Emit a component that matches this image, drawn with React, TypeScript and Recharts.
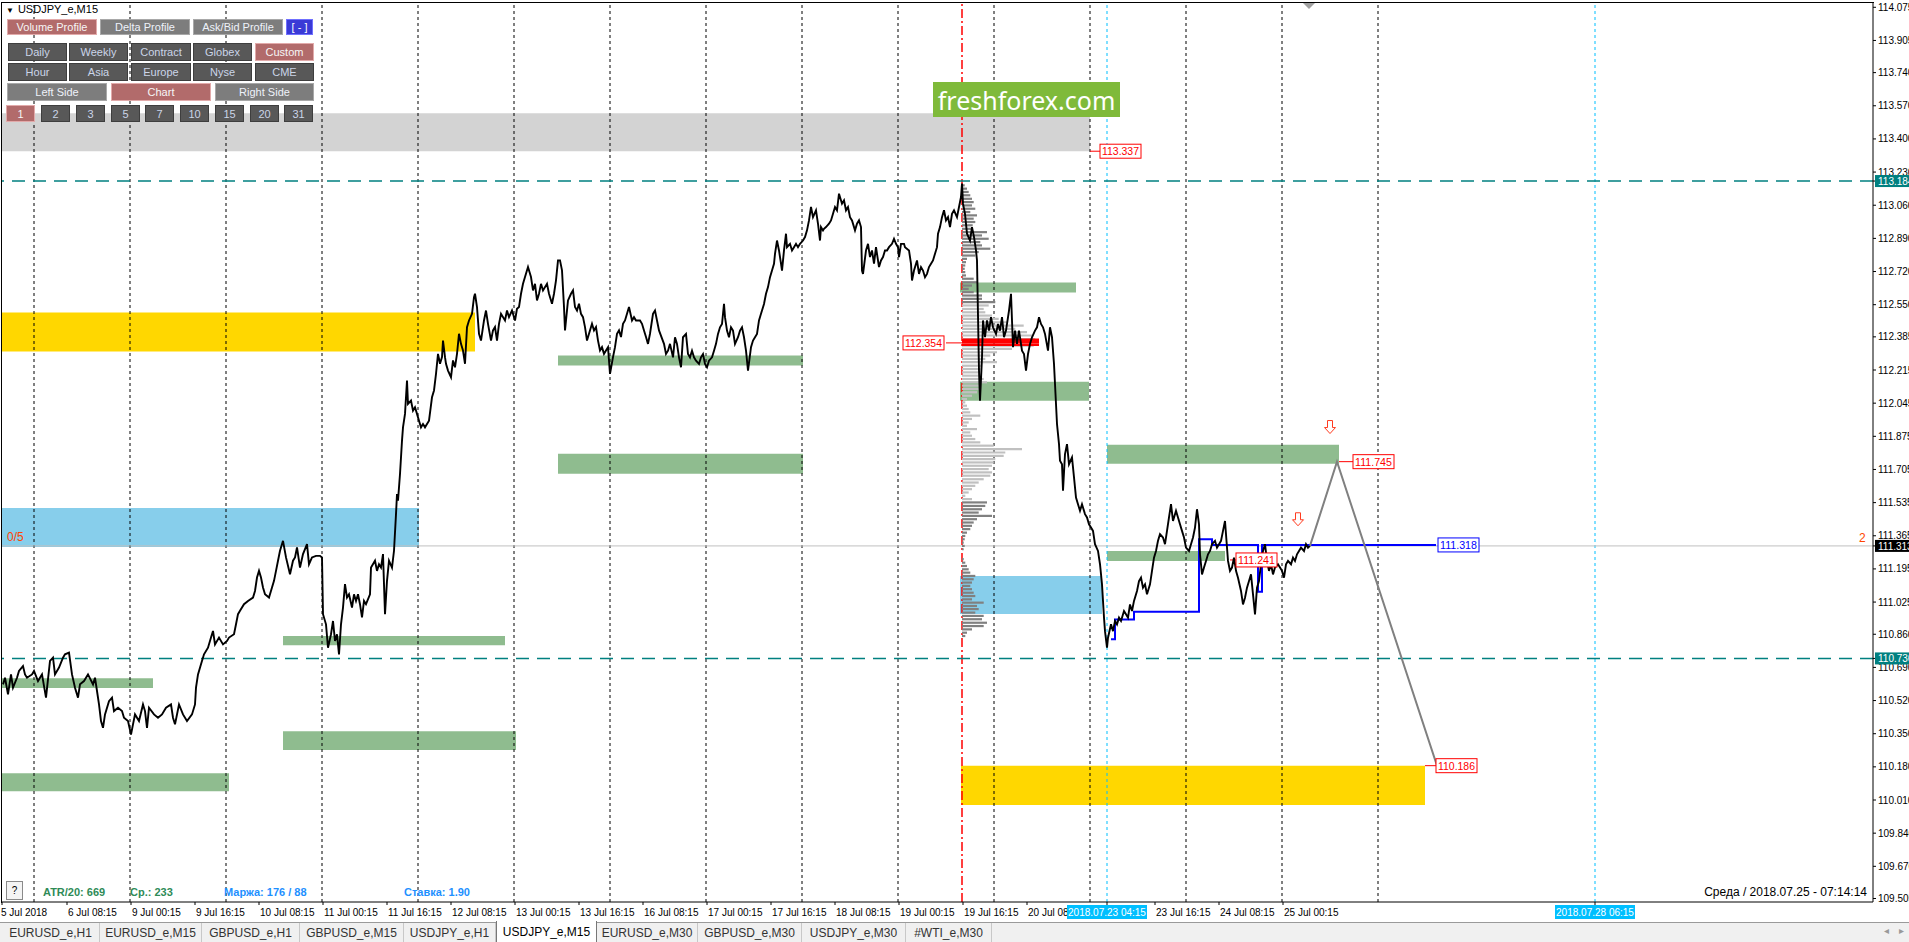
import React from 'react';
import { ComposedChart, Line, XAxis, YAxis, ReferenceArea, ReferenceLine, ReferenceDot } from 'recharts';

// ---------- DATA ----------
// bar index: 15-minute bars counted from 5 Jul 2018 00:00 (96 bars per trading day)
const pricePath: [number, number][] = [
  [65,110.603],[67,110.637],[70,110.552],[73,110.654],[75,110.586],[79,110.637],[81,110.672],[85,110.697],[87,110.654],[89,110.637],
  [94,110.654],[96,110.672],[100,110.620],[104,110.654],[108,110.535],[112,110.723],[115,110.740],[117,110.654],[121,110.689],[125,110.740],
  [127,110.757],[131,110.766],[134,110.654],[137,110.586],[140,110.535],[142,110.603],[146,110.620],[150,110.654],[155,110.603],[157,110.637],
  [159,110.569],[161,110.500],[163,110.415],[165,110.380],[167,110.449],[171,110.517],[174,110.535],[176,110.466],[180,110.483],[184,110.466],
  [186,110.432],[190,110.415],[193,110.346],[195,110.398],[197,110.449],[201,110.415],[205,110.500],[207,110.466],[209,110.380],[211,110.483],
  [216,110.449],[220,110.432],[224,110.449],[228,110.483],[233,110.500],[235,110.432],[237,110.398],[241,110.500],[245,110.449],[249,110.415],
  [254,110.449],[257,110.500],[258,110.586],[260,110.654],[263,110.706],[266,110.757],[270,110.791],[273,110.843],[275,110.877],[277,110.808],
  [281,110.843],[285,110.808],[289,110.826],[291,110.843],[296,110.860],[298,110.911],[300,110.963],[302,110.980],[306,111.014],[310,111.031],
  [315,111.048],[317,111.082],[319,111.151],[321,111.185],[323,111.151],[325,111.100],[327,111.065],[331,111.048],[334,111.100],[336,111.134],
  [338,111.185],[340,111.237],[342,111.288],[345,111.339],[348,111.254],[352,111.168],[355,111.237],[357,111.254],[359,111.305],[362,111.202],
  [365,111.271],[369,111.322],[371,111.219],[374,111.254],[378,111.262],[382,111.262],[384,111.254],[385,110.963],[388,110.911],[390,110.791],
  [393,110.860],[395,110.928],[397,110.826],[399,110.860],[401,110.757],[403,110.911],[405,110.997],[407,111.117],[409,111.048],[411,111.065],
  [414,110.997],[416,111.065],[418,111.031],[420,111.065],[422,111.014],[424,110.946],[426,111.031],[428,111.014],[432,111.065],[433,111.202],
  [437,111.237],[439,111.185],[441,111.219],[443,111.202],[445,111.271],[447,110.963],[449,111.134],[451,111.237],[454,111.202],[456,111.288],
  [458,111.476],[459,111.579],[460,111.545],[462,111.682],[464,111.853],[465,111.921],[467,111.990],[469,112.161],[470,112.041],[473,112.058],
  [475,112.007],[477,112.024],[479,111.990],[481,111.955],[483,111.921],[485,111.938],[487,111.921],[491,111.955],[494,112.075],[496,112.110],
  [498,112.195],[500,112.298],[502,112.247],[504,112.281],[505,112.366],[507,112.281],[508,112.247],[510,112.212],[513,112.178],[515,112.264],
  [517,112.229],[519,112.298],[521,112.401],[523,112.349],[525,112.315],[527,112.247],[529,112.435],[531,112.469],[534,112.503],[536,112.589],
  [537,112.606],[539,112.538],[541,112.401],[543,112.366],[546,112.469],[548,112.520],[550,112.452],[553,112.366],[555,112.418],[557,112.435],
  [559,112.366],[561,112.452],[563,112.503],[567,112.469],[569,112.520],[571,112.486],[574,112.520],[577,112.469],[579,112.529],[581,112.538],
  [583,112.606],[585,112.657],[587,112.692],[590,112.743],[593,112.692],[595,112.623],[597,112.657],[599,112.572],[601,112.606],[603,112.657],
  [605,112.623],[609,112.657],[611,112.606],[614,112.555],[616,112.606],[618,112.675],[620,112.777],[622,112.777],[624,112.726],[626,112.538],
  [627,112.418],[630,112.572],[633,112.606],[635,112.623],[637,112.538],[639,112.520],[641,112.555],[643,112.503],[645,112.486],[647,112.435],
  [649,112.366],[651,112.401],[654,112.452],[656,112.418],[658,112.435],[660,112.366],[662,112.315],[664,112.332],[666,112.298],[668,112.315],
  [670,112.332],[672,112.195],[675,112.281],[677,112.332],[679,112.401],[681,112.418],[683,112.384],[685,112.452],[687,112.469],[689,112.503],
  [691,112.538],[694,112.469],[696,112.486],[698,112.469],[702,112.469],[704,112.452],[706,112.418],[708,112.384],[710,112.349],[712,112.401],
  [715,112.503],[717,112.520],[719,112.469],[721,112.418],[726,112.349],[728,112.297],[730,112.314],[732,112.349],[735,112.280],[737,112.383],
  [739,112.349],[741,112.280],[743,112.229],[745,112.383],[748,112.400],[750,112.297],[752,112.280],[754,112.314],[756,112.280],[758,112.263],
  [761,112.246],[763,112.280],[765,112.297],[767,112.246],[769,112.229],[771,112.263],[774,112.280],[776,112.314],[778,112.349],[780,112.400],
  [782,112.434],[784,112.451],[786,112.554],[787,112.486],[789,112.417],[791,112.383],[793,112.434],[795,112.417],[797,112.349],[800,112.383],
  [802,112.417],[804,112.434],[806,112.383],[808,112.314],[810,112.212],[813,112.332],[815,112.366],[817,112.383],[819,112.400],[821,112.469],
  [823,112.503],[826,112.554],[828,112.606],[830,112.640],[832,112.691],[834,112.725],[836,112.760],[837,112.811],[839,112.879],[841,112.828],
  [843,112.760],[844,112.725],[846,112.828],[848,112.914],[849,112.845],[852,112.862],[854,112.828],[856,112.845],[858,112.862],[860,112.845],
  [862,112.862],[865,112.879],[867,112.897],[869,112.931],[871,112.982],[873,113.051],[875,112.999],[878,113.034],[880,112.965],[882,112.879],
  [883,112.948],[885,112.931],[886,112.939],[888,112.948],[891,112.965],[893,112.982],[895,113.016],[897,113.051],[899,113.034],[901,113.119],
  [904,113.068],[906,113.085],[908,113.034],[910,113.051],[912,112.999],[914,112.982],[917,112.931],[919,112.965],[921,112.982],[923,112.948],
  [924,112.725],[925,112.708],[928,112.828],[930,112.862],[932,112.794],[934,112.828],[936,112.760],[938,112.845],[941,112.743],[943,112.777],
  [945,112.794],[947,112.828],[949,112.828],[951,112.845],[954,112.862],[956,112.888],[958,112.862],[960,112.845],[961,112.794],[963,112.862],
  [966,112.862],[967,112.845],[971,112.828],[973,112.760],[974,112.674],[976,112.725],[979,112.777],[981,112.708],[983,112.743],[985,112.725],
  [987,112.691],[989,112.708],[991,112.743],[993,112.760],[995,112.777],[997,112.811],[999,112.845],[1000,112.914],[1002,112.948],[1004,112.999],
  [1006,113.034],[1008,112.982],[1010,112.999],[1012,112.948],[1014,113.016],[1016,113.034],[1019,112.999],[1021,113.051],[1023,113.102],[1024,113.171],
  [1025,113.068],[1027,113.016],[1029,112.914],[1032,112.879],[1034,112.948],[1036,112.897],[1038,112.828],[1039,112.777],[1041,112.212],[1042,112.058],
  [1044,112.280],[1045,112.469],[1047,112.383],[1049,112.469],[1051,112.417],[1053,112.486],[1055,112.434],[1058,112.400],[1060,112.451],[1062,112.417],
  [1064,112.486],[1066,112.383],[1068,112.417],[1071,112.520],[1073,112.606],[1075,112.332],[1077,112.417],[1079,112.349],[1081,112.417],[1084,112.314],
  [1086,112.297],[1088,112.212],[1090,112.297],[1092,112.349],[1094,112.383],[1097,112.417],[1099,112.434],[1101,112.486],[1103,112.451],[1105,112.434],
  [1107,112.400],[1110,112.314],[1112,112.434],[1114,112.383],[1116,112.246],[1117,112.143],[1119,111.938],[1121,111.835],[1122,111.750],[1124,111.732],
  [1125,111.596],[1127,111.784],[1129,111.835],[1131,111.732],[1134,111.767],[1136,111.664],[1138,111.561],[1140,111.527],[1142,111.493],[1144,111.527],
  [1147,111.476],[1149,111.459],[1151,111.424],[1153,111.407],[1155,111.390],[1157,111.322],[1160,111.287],[1162,111.219],[1164,111.116],[1166,110.945],
  [1167,110.876],[1169,110.791],[1170,110.842],[1173,110.911],[1175,110.876],[1177,110.928],[1179,110.911],[1181,110.945],[1183,110.928],[1186,110.979],
  [1188,110.962],[1190,110.945],[1192,111.013],[1194,110.979],[1196,111.031],[1199,111.082],[1201,111.133],[1203,111.150],[1205,111.099],[1207,111.116],
  [1209,111.065],[1212,111.116],[1214,111.185],[1216,111.253],[1218,111.287],[1220,111.339],[1222,111.373],[1225,111.356],[1227,111.322],[1229,111.390],
  [1231,111.459],[1233,111.527],[1235,111.441],[1238,111.493],[1240,111.459],[1242,111.424],[1244,111.390],[1246,111.356],[1248,111.304],[1251,111.287],
  [1253,111.322],[1255,111.356],[1257,111.407],[1259,111.501],[1261,111.424],[1262,111.270],[1264,111.167],[1266,111.202],[1268,111.236],[1270,111.270],
  [1272,111.287],[1274,111.322],[1277,111.339],[1279,111.304],[1281,111.322],[1283,111.339],[1285,111.390],[1287,111.441],[1290,111.236],[1292,111.185],
  [1294,111.202],[1296,111.253],[1298,111.185],[1300,111.150],[1303,111.082],[1305,111.013],[1307,111.047],[1309,111.099],[1311,111.133],[1313,111.167],
  [1316,111.013],[1317,110.962],[1319,111.099],[1321,111.133],[1323,111.219],[1325,111.287],[1327,111.322],[1329,111.236],[1331,111.185],[1333,111.219],
  [1335,111.167],[1337,111.202],[1340,111.219],[1342,111.202],[1344,111.185],[1346,111.150],[1348,111.219],[1350,111.236],[1353,111.219],[1355,111.253],
  [1357,111.236],[1359,111.270],[1361,111.287],[1363,111.304],[1366,111.287],[1368,111.322],[1370,111.304],[1372,111.313],
];

// stepped VWAP-style level (blue)
const vwapBars = [1173, 1177, 1196, 1261, 1274, 1320, 1324, 1498];
const vwapValues = [110.834, 110.936, 110.976, 111.347, 111.318, 111.078, 111.318, 111.318];

// projected path (gray)
const forecastBars = [1372, 1399, 1499];
const forecastValues = [111.313, 111.745, 110.186];

// zones: [fromBar, toBar, low, high]
const rangeZones: number[][] = [[64, 1152, 113.337, 113.532]];
const targetZones: number[][] = [[64, 537, 112.310, 112.510], [1023, 1487, 109.985, 110.186]];
const pivotZones: number[][] = [[64, 481, 111.308, 111.508], [1022, 1164, 110.964, 111.159]];
const levelZones: number[][] = [
  [1022, 1138, 112.613, 112.664], [620, 865, 112.238, 112.289], [1022, 1151, 112.058, 112.155],
  [620, 865, 111.683, 111.786], [1169, 1401, 111.734, 111.832], [1169, 1287, 111.236, 111.287],
  [345, 567, 110.804, 110.851], [64, 215, 110.584, 110.635], [345, 578, 110.266, 110.363],
  [64, 291, 110.055, 110.147],
];

// volume profile starting at 19 Jul 16:00
const profileStart = 1024;
const profilePrices = [
  113.162,113.145,113.128,113.111,113.093,113.076,113.059,113.042,113.025,113.008,112.991,112.974,112.957,112.939,112.922,112.905,
  112.888,112.871,112.854,112.837,112.820,112.802,112.785,112.768,112.751,112.734,112.717,112.700,112.683,112.665,112.648,112.631,
  112.614,112.597,112.580,112.563,112.546,112.528,112.511,112.494,112.477,112.460,112.443,112.426,112.409,112.392,112.374,112.340,
  112.323,112.306,112.289,112.272,112.255,112.237,112.220,112.203,112.186,112.169,112.152,112.135,112.118,112.101,112.083,112.066,
  112.049,112.032,112.015,111.998,111.981,111.964,111.946,111.929,111.912,111.895,111.878,111.861,111.844,111.827,111.809,111.792,
  111.775,111.758,111.741,111.724,111.707,111.690,111.673,111.655,111.638,111.621,111.604,111.587,111.570,111.553,111.536,111.518,
  111.501,111.484,111.467,111.450,111.433,111.416,111.399,111.381,111.364,111.347,111.330,111.313,111.296,111.245,111.227,111.210,
  111.193,111.176,111.159,111.142,111.125,111.108,111.091,111.073,111.056,111.039,111.022,111.005,110.989,110.971,110.954,110.937,
  110.919,110.902,110.885,110.868,110.851,
];
const profileVolumes = [
  2.7,5,6.7,8.3,10,11.7,10,13.3,8.3,15,11.7,13.3,10.7,10,25,20,
  26.7,18.3,20,28.3,16.7,13.3,5,4,3.3,2.7,3.3,4,11.7,15,10,6.7,
  11.7,20,20,33.3,26.7,21.7,23.3,30,36.7,45,61.7,53.3,65,70,73.3,71.7,
  50,35,28.3,23.3,35,20,18.3,16.7,18.3,21.7,25,18.3,16.7,15,10,5,
  3.3,5,6.7,8.3,18.3,10,6.7,5,15,8.3,10,13.3,18.3,31.7,60,43.3,
  41.7,33.3,31.7,30,26.7,30,28.3,21.7,16.7,13.3,10,6.7,3.3,10,25,23.3,
  20,16.7,30,15,11.7,10,8.3,5,3.3,2.7,1.7,2.7,1.7,1.7,3.3,5,
  6.7,8.3,13.3,11.7,10,8.3,10,11.7,13.3,10,21.7,15,16.7,13.3,21.7,20,
  25,21.7,10,5,3.3,
];
const valueAreaHigh = 112.55;
const valueAreaLow = 111.55;
const pocPrices = [112.370, 112.357, 112.345];
const pocEnd = 1101;

// level labels
const labelBars = [1162, 965, 1415, 1298, 1500, 1498];
const labelValues = [113.337, 112.354, 111.745, 111.241, 111.318, 110.186];
const labelKinds = ['level', 'level', 'level', 'level', 'vwap', 'level'];
const connectorFrom = [1152, 1008, 1401, 1292, 1487];
const connectorTo = [1162, 1024, 1415, 1298, 1498];
const connectorValues = [113.337, 112.354, 111.745, 111.241, 110.186];

const arrowBars = [1360, 1392];
const arrowValues = [111.447, 111.920];

const keyLevels = [113.184, 110.736];
const currentPrice = 111.313;

const tradingDayStarts = [96, 192, 288, 384, 480, 576, 672, 768, 864, 960, 1056, 1152, 1248, 1344, 1440];
const sessionMarkerBar = 1024;
const timeMarkerBars = [1169, 1657];
const timeMarkerLabels = ['2018.07.23 04:15', '2018.07.28 06:15'];

const xTickBars = [64, 129, 193, 257, 321, 385, 449, 513, 577, 641, 705, 769, 833, 897, 961, 1025, 1089, 1217, 1281, 1345];
const xTickLabels = ['5 Jul 2018', '6 Jul 08:15', '9 Jul 00:15', '9 Jul 16:15', '10 Jul 08:15', '11 Jul 00:15', '11 Jul 16:15',
  '12 Jul 08:15', '13 Jul 00:15', '13 Jul 16:15', '16 Jul 08:15', '17 Jul 00:15', '17 Jul 16:15', '18 Jul 08:15',
  '19 Jul 00:15', '19 Jul 16:15', '20 Jul 08:15', '23 Jul 16:15', '24 Jul 08:15', '25 Jul 00:15'];

const yTicks = [114.075, 113.905, 113.740, 113.570, 113.400, 113.230, 113.060, 112.890, 112.720, 112.550, 112.385, 112.215,
  112.045, 111.875, 111.705, 111.535, 111.365, 111.195, 111.025, 110.860, 110.690, 110.520, 110.350, 110.180, 110.010,
  109.840, 109.670, 109.505];
const yMarkerValues = [113.184, 111.313, 110.736];
const yMarkerKinds = ['key', 'bid', 'key'];

const tabs = ['EURUSD_e,H1', 'EURUSD_e,M15', 'GBPUSD_e,H1', 'GBPUSD_e,M15', 'USDJPY_e,H1', 'USDJPY_e,M15', 'EURUSD_e,M30', 'GBPUSD_e,M30', 'USDJPY_e,M30', '#WTI_e,M30'];

// ---------- STYLE ----------
const FONT = '"Liberation Sans", Arial, sans-serif';
const C = {
  range: '#d3d3d3', target: '#ffd700', pivot: '#87ceeb', level: '#8fbc8f',
  profDark: '#808080', profLight: '#c0c0c0', poc: '#ff0000',
  key: '#008080', bid: '#000000', vwap: '#0000ff', red: '#ff0000', sky: '#00bfff',
};

const priceData = pricePath.map(([t, p]) => ({ t, p }));
const vwapData = vwapBars.map((t, i) => ({ t, p: vwapValues[i] }));
const forecastData = forecastBars.map((t, i) => ({ t, p: forecastValues[i] }));

const XTick = (props: any) => {
  const { x, y, payload } = props;
  const v = payload.value;
  const mi = timeMarkerBars.indexOf(v);
  if (mi >= 0) {
    return (
      <g>
        <rect x={x - 40} y={y - 2} width={80} height={14} fill={C.sky} />
        <text x={x} y={y + 8.5} textAnchor="middle" fill="#fff" fontSize={10} fontFamily={FONT}>{timeMarkerLabels[mi]}</text>
      </g>
    );
  }
  const i = xTickBars.indexOf(v);
  if (i < 0) return null;
  return (
    <text x={i === 0 ? x - 1 : x + 1} y={y + 9} textAnchor="start" fill="#000" fontSize={10} fontFamily={FONT}>{xTickLabels[i]}</text>
  );
};

const YTick = (props: any) => {
  const { x, y, payload } = props;
  const v = payload.value;
  const mi = yMarkerValues.indexOf(v);
  if (mi >= 0) {
    const fill = yMarkerKinds[mi] === 'bid' ? C.bid : C.key;
    return (
      <g>
        <rect x={x - 3} y={y - 6} width={45} height={12} fill={fill} />
        <text x={x} y={y + 4} fill="#fff" fontSize={10} fontFamily={FONT}>{v.toFixed(3)}</text>
      </g>
    );
  }
  return <text x={x} y={y + 3.5} fill="#000" fontSize={10} fontFamily={FONT}>{v.toFixed(3)}</text>;
};

const makeLabel = (text: string, color: string) => (props: any) => {
  const { cx, cy } = props;
  const w = 41;
  return (
    <g>
      <rect x={cx} y={cy - 7} width={w} height={14} fill="#fff" stroke={color} strokeWidth={1} />
      <text x={cx + w / 2} y={cy + 4} textAnchor="middle" fill={color} fontSize={11} fontFamily={FONT}
        textLength={w - 4} lengthAdjust="spacingAndGlyphs">{text}</text>
    </g>
  );
};

const arrowShape = (props: any) => {
  const { cx, cy } = props;
  const d = `M${cx - 2.5},${cy - 7} L${cx + 2.5},${cy - 7} L${cx + 2.5},${cy} L${cx + 5.5},${cy} L${cx},${cy + 6} L${cx - 5.5},${cy} L${cx - 2.5},${cy} Z`;
  return <path d={d} fill="#fff" stroke="#ff3b1f" strokeWidth={1} />;
};

const zoneAreas = (zones: number[][], fill: string, key: string) =>
  zones.map((z, i) => (
    <ReferenceArea key={key + i} x1={z[0]} x2={z[1]} y1={z[2]} y2={z[3]} fill={fill} fillOpacity={1} stroke="none" ifOverflow="visible" />
  ));

const btnStyles: Record<string, any> = {
  on: { background: '#b26b6b', border: '1px solid #e2aaaa', color: '#f6f6f6' },
  mid: { background: '#7d7d7d', border: '1px solid #a8a8a8', color: '#eef2fa' },
  dark: { background: '#585858', border: '1px solid #3e3e3e', color: '#cbd5e8' },
  blue: { background: '#3a3ad6', border: '1px solid #7070ff', color: '#ffffff' },
};

const Btn = ({ label, x, y, w, h, kind }: any) => (
  <div style={{
    position: 'absolute', left: x, top: y, width: w, height: h, boxSizing: 'border-box',
    display: 'flex', alignItems: 'center', justifyContent: 'center', font: `11px ${FONT}`,
    whiteSpace: 'nowrap', ...btnStyles[kind],
  }}>{label}</div>
);

const Panel = () => {
  const rows: any[] = [
    ['Volume Profile', 7, 19, 90, 16, 'on'], ['Delta Profile', 100, 19, 90, 16, 'mid'], ['Ask/Bid Profile', 193, 19, 90, 16, 'mid'], ['[ - ]', 286, 19, 27, 16, 'blue'],
    ['Daily', 8, 43, 59, 18, 'dark'], ['Weekly', 69, 43, 59, 18, 'dark'], ['Contract', 131, 43, 60, 18, 'dark'], ['Globex', 193, 43, 59, 18, 'dark'], ['Custom', 255, 43, 59, 18, 'on'],
    ['Hour', 8, 63, 59, 18, 'dark'], ['Asia', 69, 63, 59, 18, 'dark'], ['Europe', 131, 63, 60, 18, 'dark'], ['Nyse', 193, 63, 59, 18, 'dark'], ['CME', 255, 63, 59, 18, 'dark'],
    ['Left Side', 7, 83, 100, 18, 'mid'], ['Chart', 111, 83, 100, 18, 'on'], ['Right Side', 215, 83, 99, 18, 'mid'],
    ['1', 6, 105, 29, 17, 'on'], ['2', 41, 105, 29, 17, 'dark'], ['3', 76, 105, 29, 17, 'dark'], ['5', 111, 105, 29, 17, 'dark'], ['7', 145, 105, 29, 17, 'dark'],
    ['10', 180, 105, 29, 17, 'dark'], ['15', 215, 105, 29, 17, 'dark'], ['20', 250, 105, 29, 17, 'dark'], ['31', 284, 105, 29, 17, 'dark'],
  ];
  return (
    <>
      <div style={{ position: 'absolute', left: 6, top: 3, font: `11px ${FONT}`, color: '#000', whiteSpace: 'nowrap' }}>
        <span style={{ fontSize: 8, marginRight: 4 }}>▼</span>USDJPY_e,M15
      </div>
      {rows.map((r, i) => <Btn key={i} label={r[0]} x={r[1]} y={r[2]} w={r[3]} h={r[4]} kind={r[5]} />)}
    </>
  );
};

const Tabs = () => {
  const edges = [2, 100, 202, 300, 404, 496, 597, 698, 802, 906, 992];
  return (
    <div style={{ position: 'absolute', left: 0, top: 922, width: 1909, height: 20, background: '#f0f0f0', borderTop: '1px solid #9a9a9a', boxSizing: 'border-box' }}>
      {tabs.map((t, i) => {
        const active = i === 5;
        return (
          <div key={t} style={{
            position: 'absolute', left: edges[i], top: active ? -2 : 0, width: edges[i + 1] - edges[i], height: active ? 21 : 19,
            boxSizing: 'border-box', display: 'flex', alignItems: 'center', justifyContent: 'center',
            font: `12px ${FONT}`, color: active ? '#000' : '#333',
            background: active ? '#ffffff' : 'transparent',
            borderRight: active ? '1px solid #777' : '1px solid #c8c8c8',
            borderLeft: active ? '1px solid #777' : 'none',
            whiteSpace: 'nowrap',
          }}>{t}</div>
        );
      })}
      <div style={{ position: 'absolute', left: 1884, top: 2, font: `10px ${FONT}`, color: '#999' }}>◂</div>
      <div style={{ position: 'absolute', left: 1899, top: 2, font: `10px ${FONT}`, color: '#999' }}>▸</div>
    </div>
  );
};

export default function App() {
  return (
    <div style={{ position: 'relative', width: 1909, height: 942, background: '#fff', overflow: 'hidden' }}>
      <style>{'body{margin:0;background:#fff;}'}</style>
      <ComposedChart width={1909} height={924} margin={{ top: 3, right: 0, bottom: 0, left: 2 }}>
        <XAxis type="number" dataKey="t" domain={[64, 1935]} allowDataOverflow ticks={[...xTickBars, ...timeMarkerBars]}
          interval={0} tick={<XTick />} height={22} tickSize={3} axisLine={{ stroke: '#000' }} tickLine={{ stroke: '#000' }} />
        <YAxis type="number" orientation="right" domain={[109.487, 114.097]} allowDataOverflow ticks={[...yTicks, ...yMarkerValues]}
          interval={0} tick={<YTick />} width={36} tickSize={3} axisLine={{ stroke: '#000' }} tickLine={{ stroke: '#000' }} />

        {zoneAreas(rangeZones, C.range, 'r')}
        {zoneAreas(targetZones, C.target, 't')}
        {zoneAreas(pivotZones, C.pivot, 'p')}
        {zoneAreas(levelZones, C.level, 'l')}

        {tradingDayStarts.map((t) => (
          <ReferenceLine key={'d' + t} x={t} stroke="#000" strokeDasharray="3 3" strokeWidth={1} />
        ))}
        {timeMarkerBars.map((t) => (
          <ReferenceLine key={'m' + t} x={t} stroke={C.sky} strokeDasharray="3 3" strokeWidth={1} ifOverflow="visible" />
        ))}
        <ReferenceLine x={sessionMarkerBar} stroke={C.red} strokeDasharray="9 3 2 3" strokeWidth={1.5} />

        {keyLevels.map((v) => (
          <ReferenceLine key={'k' + v} y={v} stroke={C.key} strokeDasharray="13 8" strokeWidth={1.5} />
        ))}
        <ReferenceLine y={currentPrice} stroke="#c0c0c0" strokeWidth={1} />

        {profilePrices.map((p, i) => (
          <ReferenceLine key={'vp' + i} segment={[{ x: profileStart, y: p }, { x: profileStart + profileVolumes[i], y: p }]}
            stroke={p <= valueAreaHigh && p >= valueAreaLow ? C.profLight : C.profDark} strokeWidth={2.2} ifOverflow="visible" />
        ))}
        {pocPrices.map((p) => (
          <ReferenceLine key={'poc' + p} segment={[{ x: profileStart, y: p }, { x: pocEnd, y: p }]} stroke={C.poc} strokeWidth={2.5} ifOverflow="visible" />
        ))}

        {connectorFrom.map((f, i) => (
          <ReferenceLine key={'c' + i} segment={[{ x: f, y: connectorValues[i] }, { x: connectorTo[i], y: connectorValues[i] }]} stroke={C.red} strokeWidth={1} ifOverflow="visible" />
        ))}

        <Line data={vwapData} dataKey="p" type="stepAfter" stroke={C.vwap} strokeWidth={2} dot={false} isAnimationActive={false} />
        <Line data={priceData} dataKey="p" type="linear" stroke="#000" strokeWidth={1.9} strokeLinejoin="miter" dot={false} isAnimationActive={false} />
        <Line data={forecastData} dataKey="p" type="linear" stroke="#808080" strokeWidth={2} dot={false} isAnimationActive={false} />

        {labelBars.map((t, i) => (
          <ReferenceDot key={'lb' + i} x={t} y={labelValues[i]} ifOverflow="visible"
            shape={makeLabel(labelValues[i].toFixed(3), labelKinds[i] === 'vwap' ? C.vwap : C.red)} />
        ))}
        {arrowBars.map((t, i) => (
          <ReferenceDot key={'ar' + i} x={t} y={arrowValues[i]} ifOverflow="visible" shape={arrowShape} />
        ))}
      </ComposedChart>

      {/* chart frame: top & left edges */}
      <div style={{ position: 'absolute', left: 1, top: 2, width: 1873, height: 901, borderLeft: '1px solid #000', borderTop: '1px solid #000', boxSizing: 'border-box', pointerEvents: 'none' }} />
      <div style={{ position: 'absolute', left: 1303, top: 3, width: 0, height: 0, borderLeft: '6px solid transparent', borderRight: '6px solid transparent', borderTop: '6px solid #a0a0a0' }} />

      <Panel />

      <div style={{ position: 'absolute', left: 933, top: 82, width: 187, height: 35, background: '#7fba3a', color: '#fff', display: 'flex', alignItems: 'center', justifyContent: 'center', font: `25px "Noto Sans", "Open Sans", sans-serif` }}>freshforex.com</div>

      <div style={{ position: 'absolute', left: 7, top: 530, font: `12px ${FONT}`, color: '#ff4500' }}>0/5</div>
      <div style={{ position: 'absolute', left: 1859, top: 531, font: `12px ${FONT}`, color: '#ff4500' }}>2</div>

      <div style={{ position: 'absolute', left: 6, top: 881, width: 17, height: 19, border: '1px solid #8a8a8a', boxSizing: 'border-box', background: '#f4f4f4', display: 'flex', alignItems: 'center', justifyContent: 'center', font: `10px ${FONT}` }}>?</div>
      <div style={{ position: 'absolute', left: 43, top: 886, font: `bold 11px ${FONT}`, color: '#2e8b57', whiteSpace: 'nowrap' }}>ATR/20: 669</div>
      <div style={{ position: 'absolute', left: 130, top: 886, font: `bold 11px ${FONT}`, color: '#2e8b57', whiteSpace: 'nowrap' }}>Ср.: 233</div>
      <div style={{ position: 'absolute', left: 224, top: 886, font: `bold 11px ${FONT}`, color: '#1e90ff', whiteSpace: 'nowrap' }}>Маржа: 176 / 88</div>
      <div style={{ position: 'absolute', left: 404, top: 886, font: `bold 11px ${FONT}`, color: '#1e90ff', whiteSpace: 'nowrap' }}>Ставка: 1.90</div>
      <div style={{ position: 'absolute', right: 1909 - 1867, top: 885, font: `12px ${FONT}`, color: '#000', whiteSpace: 'nowrap' }}>Среда / 2018.07.25 - 07:14:14</div>

      <Tabs />
    </div>
  );
}
